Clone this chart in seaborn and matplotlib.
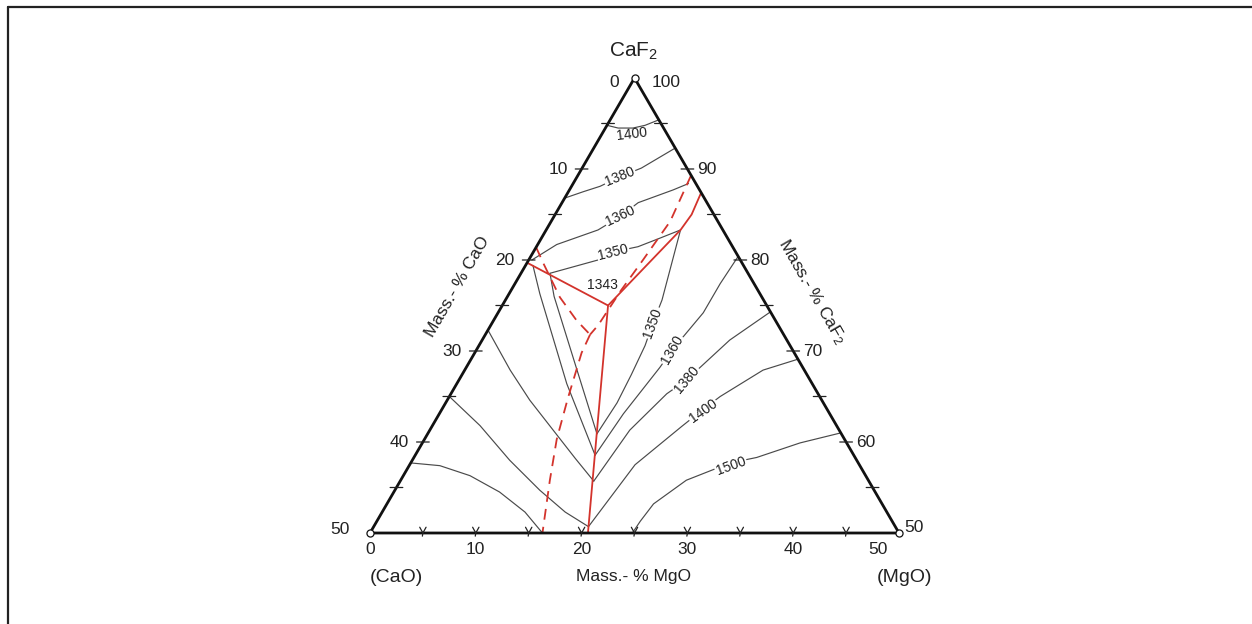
import numpy as np
import pandas as pd
import matplotlib
matplotlib.use("Agg")
import matplotlib.pyplot as plt
import seaborn as sns
from matplotlib.lines import Line2D

sns.set_theme(style="white")
plt.rcParams["font.family"] = ["Liberation Sans", "DejaVu Sans"]
plt.rcParams["mathtext.fontset"] = "custom"
plt.rcParams["mathtext.rm"] = "Liberation Sans"
plt.rcParams["mathtext.it"] = "Liberation Sans"

# ---------------- data (mass-%: MgO, CaO ; CaF2 = 100 - MgO - CaO) ----------------
major_ticks = [0, 10, 20, 30, 40, 50]
minor_ticks = [5, 10, 15, 20, 25, 30, 35, 40, 45]
cao_tick_labels = ["0", "10", "20", "30", "40", "50"]
caf2_tick_values = [100, 90, 80, 70, 60, 50]
caf2_tick_labels = ["100", "90", "80", "70", "60", "50"]
mgo_tick_labels = ["0", "10", "20", "30", "40", "50"]

# red solid boundary lines
red_a_mgo = [0.0, 10.0]
red_a_cao = [20.3, 15.0]
red_b_mgo = [10.0, 12.7, 12.9, 12.6]
red_b_cao = [15.0, 4.0, 2.1, 0.0]
red_c_mgo = [10.0, 20.6]
red_c_cao = [15.0, 29.4]

# red dashed boundary lines
dash_a_mgo = [10.7, 11.25, 10.8, 10.4, 10.15, 9.9]
dash_a_cao = [0.0, 4.5, 9.2, 12.9, 17.0, 18.3]
dash_b_mgo = [0.0, 1.6, 5.0, 7.8, 9.9]
dash_b_cao = [18.6, 18.8, 19.1, 18.8, 18.3]
dash_c_mgo = [9.9, 10.1, 11.3, 12.5, 14.1, 16.3]
dash_c_cao = [18.3, 20.1, 23.9, 27.2, 30.1, 33.7]

# isotherms (black)
iso1400_top_mgo = [0.0, 1.2, 2.6, 3.6, 4.6]
iso1400_top_cao = [5.2, 4.3, 2.9, 1.6, 0.0]
iso1380_top_mgo = [0.0, 1.4, 2.7, 4.05, 5.6, 7.7]
iso1380_top_cao = [13.2, 11.1, 9.2, 6.8, 4.3, 0.0]
iso1360_top_mgo = [0.3, 1.8, 4.9, 6.2, 7.2, 9.8, 10.9]
iso1360_top_cao = [19.7, 16.5, 11.8, 9.1, 6.5, 2.5, 0.7]
iso1350_top_mgo = [2.74, 6.55, 7.53, 9.6, 11.2, 12.7]
iso1350_top_cao = [18.72, 13.45, 11.59, 8.94, 6.4, 4.0]

cao1360_mgo = [0.7, 2.9, 10.4, 17.0]
cao1360_cao = [19.9, 20.8, 23.2, 24.45]
cao1350_mgo = [2.74, 4.4, 10.35, 16.0]
cao1350_cao = [18.72, 19.6, 21.4, 23.1]
cao1380_mgo = [0.0, 4.3, 7.8, 11.9, 15.3, 18.3]
cao1380_cao = [27.7, 27.8, 27.6, 27.0, 26.5, 26.0]
cao1400_mgo = [0.0, 4.5, 9.2, 13.7, 17.3, 20.3]
cao1400_cao = [35.0, 33.7, 32.8, 31.6, 30.4, 29.0]
cao1500_mgo = [0.0, 2.9, 6.3, 10.0, 13.5, 16.3]
cao1500_cao = [42.3, 39.7, 37.4, 35.5, 34.2, 33.7]

mgo1350_mgo = [12.7, 13.9, 14.8, 15.2, 15.7, 16.0, 16.2, 16.0]
mgo1350_cao = [4.0, 7.2, 9.6, 11.7, 13.7, 16.6, 19.5, 23.1]
mgo1360_mgo = [19.6, 19.4, 19.4, 18.5, 18.3, 17.4, 17.0]
mgo1360_cao = [0.0, 3.2, 6.4, 11.4, 13.5, 19.5, 24.45]
mgo1380_mgo = [25.7, 23.4, 21.5, 20.4, 18.9, 18.3]
mgo1380_cao = [0.0, 5.4, 11.7, 14.3, 19.8, 26.0]
mgo1400_mgo = [30.9, 28.2, 25.6, 24.7, 23.6, 21.3, 20.3]
mgo1400_cao = [0.0, 3.9, 9.4, 11.7, 14.7, 21.2, 29.0]
mgo1500_mgo = [24.8, 24.9, 25.2, 27.0, 30.2, 32.4, 35.7, 39.0]
mgo1500_cao = [25.2, 23.8, 21.6, 17.2, 12.1, 9.3, 4.4, 0.0]

# isotherm labels: text, MgO, CaO, rotation
iso_text = ["1400", "1380", "1360", "1350", "1343", "1350", "1360", "1380", "1400", "1500"]
iso_mgo = [2.84, 4.07, 6.21, 7.53, 8.3, 15.21, 18.48, 21.55, 24.77, 30.44]
iso_cao = [3.31, 6.81, 8.95, 11.59, 14.45, 11.71, 11.41, 11.64, 11.82, 12.2]
iso_rot = [7, 22, 25, 14, 0, 70, 60, 50, 35, 20]
iso_box = [False, True, True, True, False, True, True, True, True, True]

# ---------------- figure ----------------
W, H = 1252, 624
fig = plt.figure(figsize=(W / 100, H / 100), dpi=100)
ax = fig.add_axes([0, 0, 1, 1])
X0, Y0 = 370, 533
SX, SY = 10.58, 10.508
ax.set_xlim(-X0 / SX, (W - X0) / SX)
ax.set_ylim(-(H - Y0) / SY, Y0 / SY)
ax.axis("off")

S3 = np.sqrt(3) / 2


def tern(mgo, cao):
    mgo = np.asarray(mgo, float)
    cao = np.asarray(cao, float)
    f = 50 - mgo - cao
    return mgo + f / 2, f * S3


def curve(mgo, cao, color, lw, dashes=None, z=2):
    x, y = tern(mgo, cao)
    df = pd.DataFrame({"x": x, "y": y})
    sns.lineplot(data=df, x="x", y="y", sort=False, estimator=None,
                 color=color, lw=lw, ax=ax, zorder=z)
    line = ax.lines[-1]
    if dashes:
        line.set_dashes(dashes)
    line.set_solid_joinstyle("round")
    return line


GREY = "#4a4a4a"
RED = "#d3332c"

# isotherms
for m, c in [(iso1400_top_mgo, iso1400_top_cao), (iso1380_top_mgo, iso1380_top_cao),
             (iso1360_top_mgo, iso1360_top_cao), (iso1350_top_mgo, iso1350_top_cao),
             (cao1360_mgo, cao1360_cao), (cao1350_mgo, cao1350_cao),
             (cao1380_mgo, cao1380_cao), (cao1400_mgo, cao1400_cao),
             (cao1500_mgo, cao1500_cao), (mgo1350_mgo, mgo1350_cao),
             (mgo1360_mgo, mgo1360_cao), (mgo1380_mgo, mgo1380_cao),
             (mgo1400_mgo, mgo1400_cao), (mgo1500_mgo, mgo1500_cao)]:
    curve(m, c, GREY, 0.85)

# red boundaries
for m, c in [(red_a_mgo, red_a_cao), (red_b_mgo, red_b_cao), (red_c_mgo, red_c_cao)]:
    curve(m, c, RED, 1.3, z=3)
for m, c in [(dash_a_mgo, dash_a_cao), (dash_b_mgo, dash_b_cao), (dash_c_mgo, dash_c_cao)]:
    curve(m, c, RED, 1.3, dashes=(6, 4), z=3)

# triangle frame
curve([0, 50, 0, 0], [50, 0, 0, 50], "#111111", 2.0, z=4)

# ticks
tx, ty = [], []
for v in minor_ticks:
    x, y = tern(0, v)          # left edge (CaO)
    tx += [x - 0.6, x + 0.6, np.nan]; ty += [y, y, np.nan]
    x, y = tern(v, 0)          # right edge (CaF2)
    tx += [x - 0.6, x + 0.6, np.nan]; ty += [y, y, np.nan]
    x, y = tern(v, 50 - v)     # bottom edge (MgO)
    tx += [x - 0.3, x, x + 0.3, np.nan, x, x - 0.05, np.nan]
    ty += [0.55, 0, 0.55, np.nan, 0, -0.3, np.nan]
ax.plot(tx, ty, color="#222222", lw=0.9, zorder=4)

# vertex circles
vx, vy = tern([0, 50, 0], [50, 0, 0])
sns.scatterplot(x=vx, y=vy, s=26, marker="o", facecolor="white",
                edgecolor="#111111", linewidth=0.9, zorder=6, ax=ax)

TS = 12.5
# left labels (CaO)
for v, lab in zip(major_ticks, cao_tick_labels):
    x, y = tern(0, v)
    off = (-14, -1)
    if v == 0:
        off = (-15, -5)
    if v == 50:
        off = (-20, 3)
    ax.annotate(lab, (x, y), xytext=off, textcoords="offset pixels",
                ha="right", va="center", fontsize=TS, color="#222222")
# right labels (CaF2)
for v, lab in zip(caf2_tick_values, caf2_tick_labels):
    x, y = tern(100 - v, 0)
    off = (10, -1)
    if v == 100:
        off = (17, -5)
    if v == 50:
        off = (5, 5)
    ax.annotate(lab, (x, y), xytext=off, textcoords="offset pixels",
                ha="left", va="center", fontsize=TS, color="#222222")
# bottom labels (MgO)
for v, lab in zip(major_ticks, mgo_tick_labels):
    x, y = tern(v, 50 - v)
    off = (0, -17)
    if v == 50:
        off = (-21, -17)
    ax.annotate(lab, (x, y), xytext=off, textcoords="offset pixels",
                ha="center", va="center", fontsize=TS, color="#222222")

# isotherm labels
for s, m, c, r, b in zip(iso_text, iso_mgo, iso_cao, iso_rot, iso_box):
    x, y = tern(m, c)
    kw = {}
    if b:
        kw["bbox"] = dict(boxstyle="square,pad=0.08", fc="white", ec="none")
    ax.text(x, y, s, rotation=r, rotation_mode="anchor", ha="center", va="center",
            fontsize=10, color="#222222", zorder=5, **kw)

# axis titles
def ftext(px, py, s, **kw):
    fig.text(px / W, 1 - py / H, s, ha="center", va="center", color="#222222",
             rotation_mode="anchor", **kw)

ftext(634, 51, r"CaF$_\mathregular{2}$", fontsize=15)
ftext(396, 578, "(CaO)", fontsize=14)
ftext(905, 578, "(MgO)", fontsize=14)
ftext(634, 577, "Mass.- % MgO", fontsize=12.5)
ftext(457, 287, "Mass.- % CaO", fontsize=12.5, rotation=60)
ftext(812, 292, r"Mass.- % CaF$_\mathregular{2}$", fontsize=12.5, rotation=-60)

# image border (top and left)
fig.add_artist(Line2D([8 / W, 8 / W], [0, 1 - 7 / H], transform=fig.transFigure,
                      color="#222222", lw=1.6))
fig.add_artist(Line2D([8 / W, 1], [1 - 7 / H, 1 - 7 / H], transform=fig.transFigure,
                      color="#222222", lw=1.6))

fig.savefig("out.png", dpi=100, facecolor="white")
